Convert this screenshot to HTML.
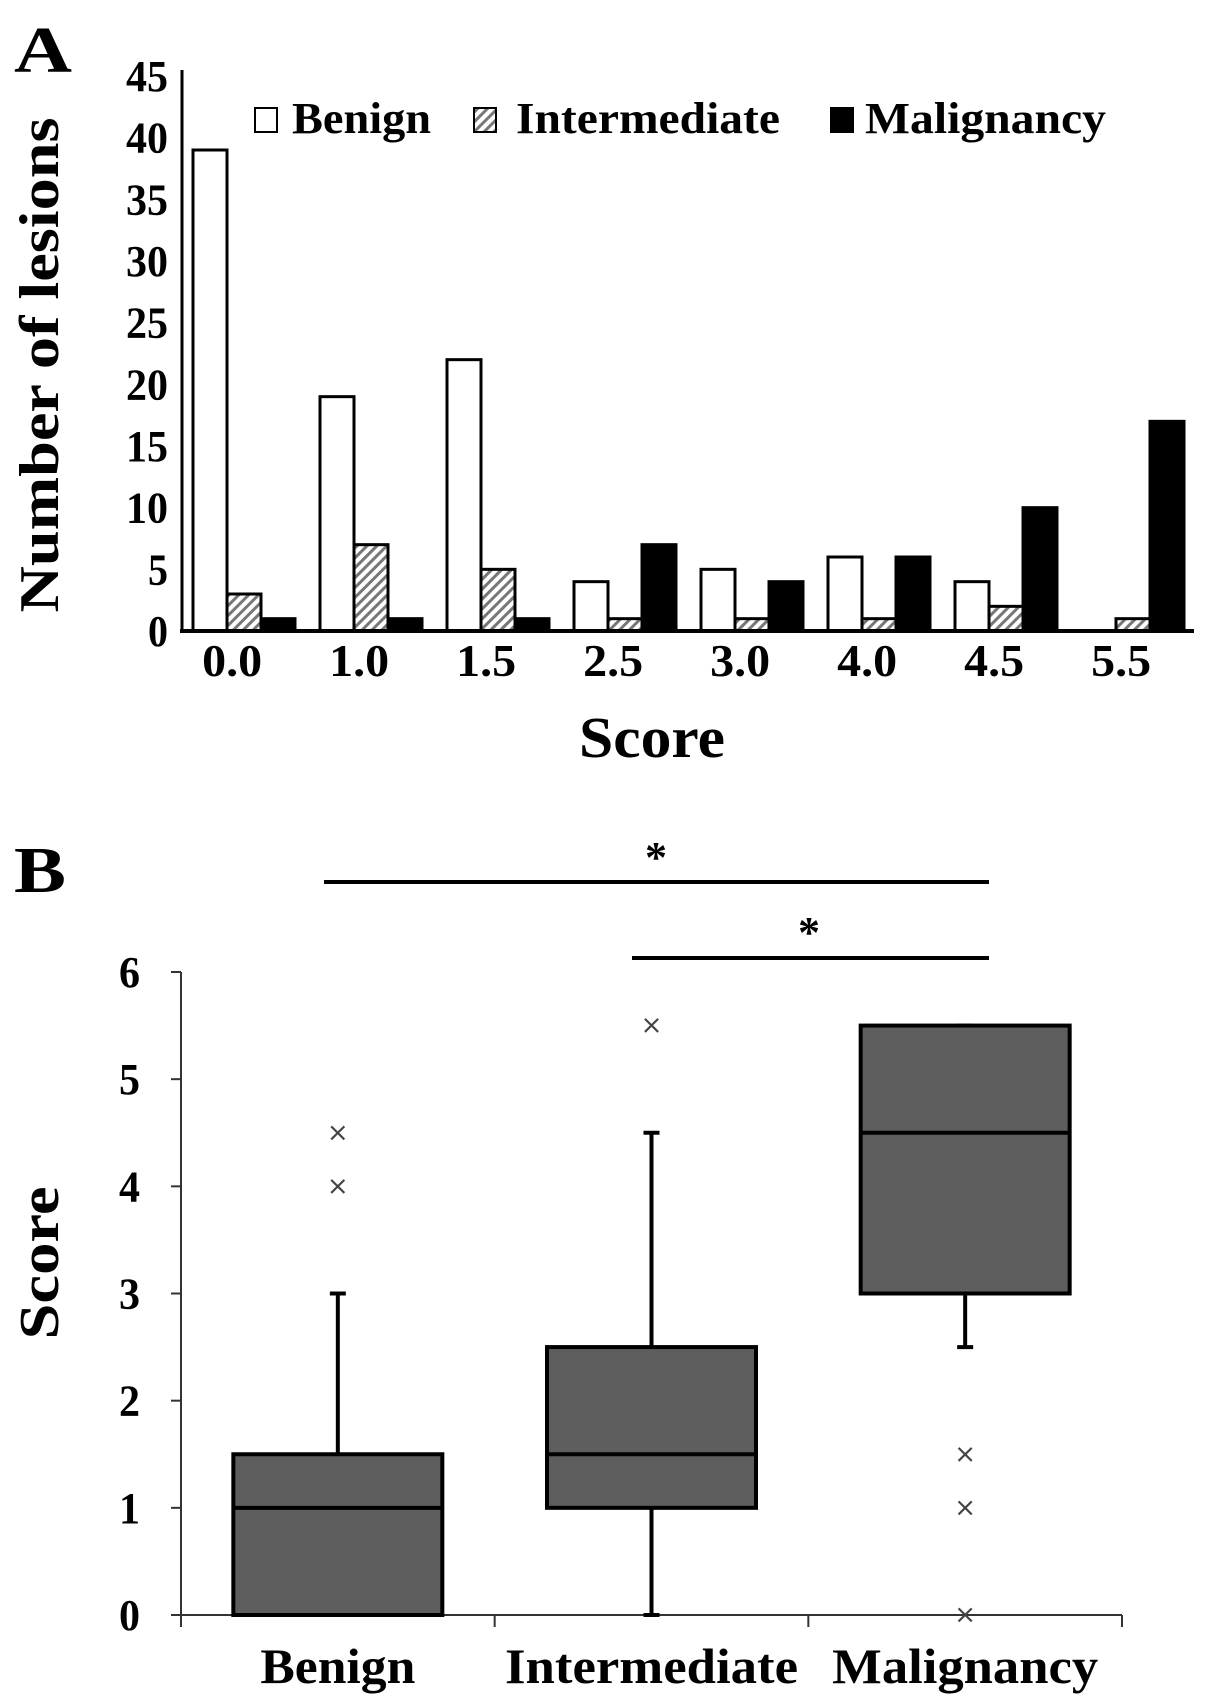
<!DOCTYPE html>
<html><head><meta charset="utf-8"><style>
html,body{margin:0;padding:0;background:#fff;}
svg{display:block;font-family:"Liberation Serif",serif;font-weight:bold;}
</style></head><body>
<svg id="chart" width="1205" height="1701" viewBox="0 0 1205 1701">
<defs>
<pattern id="hatch" patternUnits="userSpaceOnUse" width="7" height="7" patternTransform="rotate(45)">
<rect width="7" height="7" fill="#fff"/><rect width="3" height="7" fill="#777"/>
</pattern>
</defs>
<g id="panelA"></g>
<g id="panelB"></g>
</svg>
<script>
const categoriesA = ["0.0","1.0","1.5","2.5","3.0","4.0","4.5","5.5"];
const benign = [39,19,22,4,5,6,4,0];
const intermediate = [3,7,5,1,1,1,2,1];
const malignancy = [1,1,1,7,4,6,10,17];
const yTicksA = [0,5,10,15,20,25,30,35,40,45];

const categoriesB = ["Benign","Intermediate","Malignancy"];
const boxMin = [0,0,2.5];
const boxQ1 = [0,1,3];
const boxMed = [1,1.5,4.5];
const boxQ3 = [1.5,2.5,5.5];
const boxMax = [3,4.5,5.5];
const outliers = [[4,4.5],[5.5],[0,1,1.5]];
const yTicksB = [0,1,2,3,4,5,6];

const NS="http://www.w3.org/2000/svg";
function mk(parent,tag,attrs,text){const e=document.createElementNS(NS,tag);for(const k in attrs)e.setAttribute(k,attrs[k]);if(text!==undefined)e.textContent=text;parent.appendChild(e);return e;}

// Panel A
const A=document.getElementById('panelA');
const ax0=182, ay0=631, ayTop=76, aMax=45;
const yA=v=>ay0-(v/aMax)*(ay0-ayTop);
const groupStart=i=>193+i*127;
const bw=34;
let t=mk(A,'text',{x:14,y:72,'font-size':66,textLength:58,lengthAdjust:'spacingAndGlyphs'},'A');


yTicksA.forEach(v=>{
  const e=mk(A,'text',{x:168,y:yA(v)+15,'font-size':44,'text-anchor':'end',textLength:v<10?20:42,lengthAdjust:'spacingAndGlyphs'},String(v));
  
  
});
const series=[[benign,'#fff','benign'],[intermediate,'url(#hatch)','intermediate'],[malignancy,'#000','malignancy']];
categoriesA.forEach((c,i)=>{
  series.forEach((s,j)=>{
    const v=s[0][i]; if(v<=0) return;
    const r=mk(A,'rect',{x:groupStart(i)+j*bw,y:yA(v),width:bw,height:ay0-yA(v),fill:s[1],stroke:'#000','stroke-width':3});
    
    
  });
  const e=mk(A,'text',{x:groupStart(i)+bw*1.15,y:676,'font-size':46,'text-anchor':'middle',textLength:60,lengthAdjust:'spacingAndGlyphs'},c);
  
  
});
let l=mk(A,'line',{x1:ax0,y1:ayTop-6,x2:ax0,y2:ay0,stroke:'#000','stroke-width':3});


l=mk(A,'line',{x1:ax0-2,y1:ay0,x2:1194,y2:ay0,stroke:'#000','stroke-width':4});


t=mk(A,'text',{x:652,y:757,'font-size':58,'text-anchor':'middle',textLength:146,lengthAdjust:'spacingAndGlyphs'},'Score');


t=mk(A,'text',{x:0,y:0,'font-size':56,'text-anchor':'middle',transform:'translate(58,365) rotate(-90)',textLength:495,lengthAdjust:'spacingAndGlyphs'},'Number of lesions');


// legend
const leg=[['Benign','#fff',255,292,139],['Intermediate','url(#hatch)',474,516,264],['Malignancy','#000',831,865,241]];
leg.forEach(g=>{
  const gg=mk(A,'g',{});
  
  
  mk(gg,'rect',{x:g[2],y:108,width:22,height:24,fill:g[1],stroke:'#000','stroke-width':2});
  mk(gg,'text',{x:g[3],y:133,'font-size':44,textLength:g[4],lengthAdjust:'spacingAndGlyphs'},g[0]);
});

// Panel B
const B=document.getElementById('panelB');
const bx0=181, bx1=1122, by0=1615, byTop=972, bMax=6;
const yB=v=>by0-(v/bMax)*(by0-byTop);
const catW=(bx1-bx0)/3;
const cx=i=>bx0+catW*(i+0.5);
t=mk(B,'text',{x:14,y:892,'font-size':66,textLength:52,lengthAdjust:'spacingAndGlyphs'},'B');


yTicksB.forEach(v=>{
  const e=mk(B,'text',{x:140,y:yB(v)+15,'font-size':44,'text-anchor':'end',textLength:21,lengthAdjust:'spacingAndGlyphs'},String(v));
  
  
  mk(B,'line',{x1:bx0-10,y1:yB(v),x2:bx0,y2:yB(v),stroke:'#333','stroke-width':2});
});
l=mk(B,'line',{x1:bx0,y1:byTop,x2:bx0,y2:by0,stroke:'#333','stroke-width':2});


l=mk(B,'line',{x1:bx0,y1:by0,x2:bx1,y2:by0,stroke:'#333','stroke-width':2});


for(let i=0;i<=3;i++) mk(B,'line',{x1:bx0+catW*i,y1:by0,x2:bx0+catW*i,y2:by0+12,stroke:'#333','stroke-width':2});
const boxW=209;
const labW=[155,293,266];
categoriesB.forEach((c,i)=>{
  const g=mk(B,'g',{});
  
  
  const x=cx(i);
  mk(g,'line',{x1:x,y1:yB(boxMax[i]),x2:x,y2:yB(boxQ3[i]),stroke:'#000','stroke-width':4});
  mk(g,'line',{x1:x,y1:yB(boxQ1[i]),x2:x,y2:yB(boxMin[i]),stroke:'#000','stroke-width':4});
  mk(g,'line',{x1:x-8,y1:yB(boxMax[i]),x2:x+8,y2:yB(boxMax[i]),stroke:'#000','stroke-width':4});
  mk(g,'line',{x1:x-8,y1:yB(boxMin[i]),x2:x+8,y2:yB(boxMin[i]),stroke:'#000','stroke-width':4});
  mk(g,'rect',{x:x-boxW/2,y:yB(boxQ3[i]),width:boxW,height:yB(boxQ1[i])-yB(boxQ3[i]),fill:'#5e5e5e',stroke:'#000','stroke-width':4});
  mk(g,'line',{x1:x-boxW/2,y1:yB(boxMed[i]),x2:x+boxW/2,y2:yB(boxMed[i]),stroke:'#000','stroke-width':4});
  outliers[i].forEach(v=>{
    const o=mk(B,'text',{x:x,y:yB(v)+8,'font-size':26,'font-weight':'normal','text-anchor':'middle',fill:'#444','font-family':'"DejaVu Sans",sans-serif'},'×');
    
    
  });
  const e=mk(B,'text',{x:x,y:1683,'font-size':50,'text-anchor':'middle',textLength:labW[i],lengthAdjust:'spacingAndGlyphs'},c);
  
  
});
t=mk(B,'text',{x:0,y:0,'font-size':56,'text-anchor':'middle',transform:'translate(58,1263) rotate(-90)',textLength:153,lengthAdjust:'spacingAndGlyphs'},'Score');


// significance
l=mk(B,'line',{x1:324,y1:882,x2:989,y2:882,stroke:'#000','stroke-width':4});


l=mk(B,'line',{x1:632,y1:958,x2:989,y2:958,stroke:'#000','stroke-width':4});


t=mk(B,'text',{x:656,y:872,'font-size':44,'text-anchor':'middle'},'*');


t=mk(B,'text',{x:809,y:947,'font-size':44,'text-anchor':'middle'},'*');


</script>
</body></html>
